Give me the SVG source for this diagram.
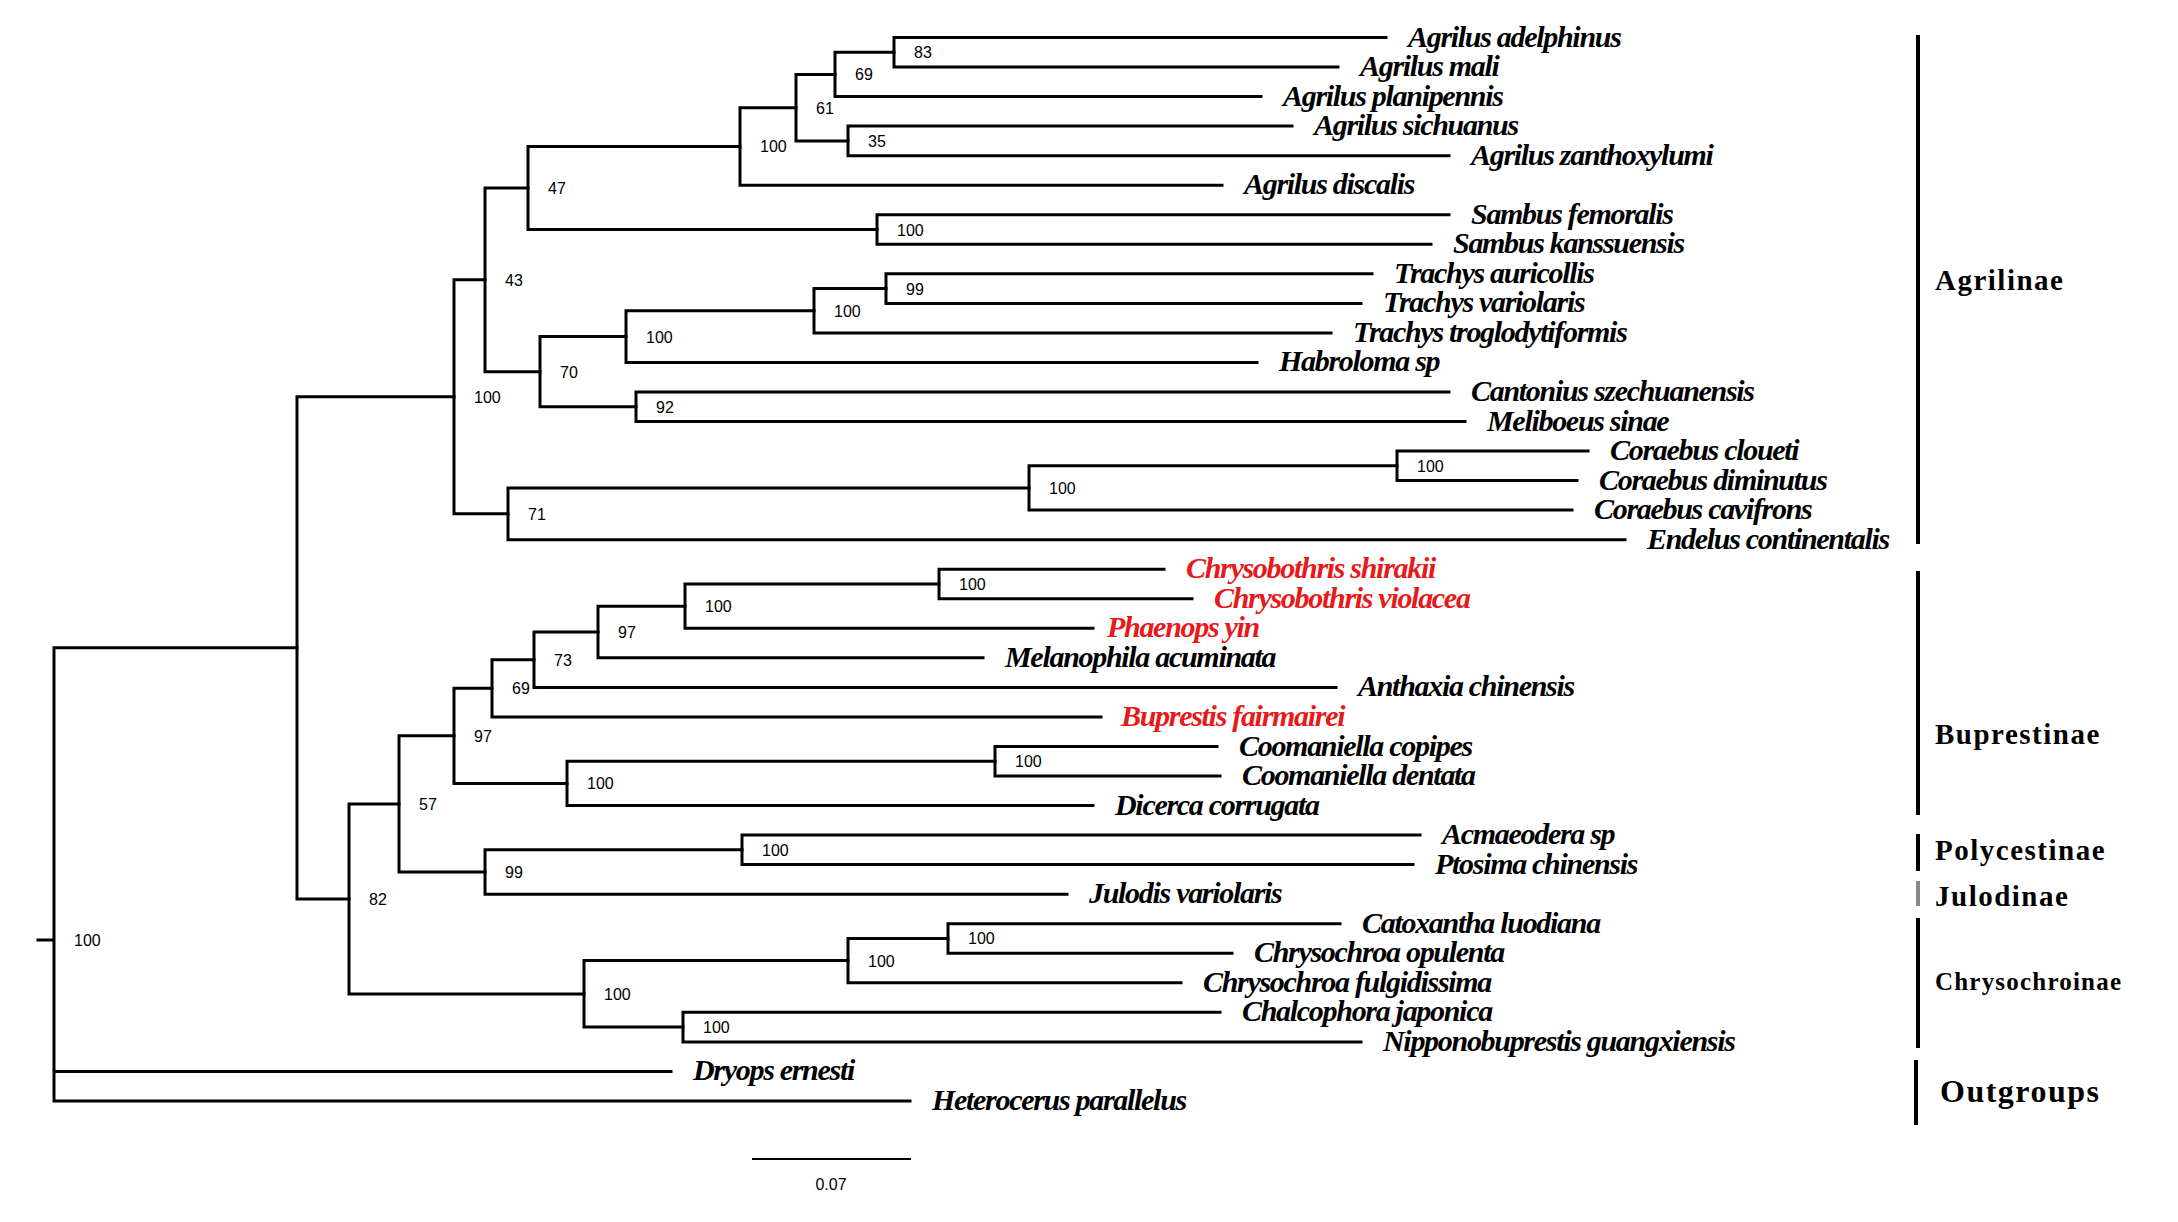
<svg xmlns="http://www.w3.org/2000/svg" width="2178" height="1222" viewBox="0 0 2178 1222">
<style>
.e{fill:none;stroke:#000;stroke-width:3;stroke-linecap:square}
.b{font-family:"Liberation Sans",Arial,sans-serif;font-size:16px;fill:#000}
.t{font-family:"Liberation Serif","Times New Roman",serif;font-style:italic;font-weight:bold;font-size:30px;letter-spacing:-1.3px;fill:#000}
.r{fill:#e8191b}
.c{font-family:"Liberation Serif","Times New Roman",serif;font-weight:bold;font-size:29px;letter-spacing:1.5px;fill:#000}
.bar{stroke:#000;stroke-width:4}
</style>
<rect width="2178" height="1222" fill="#fff"/>
<g id="connectors">
<path class="e" d="M38,940H54M54,647.8V1100.9M54,647.8H297M54,1071.4H671M54,1100.9H910"/>
<path class="e" d="M297,396.8V898.9H349M297,396.8H454"/>
<path class="e" d="M454,279.8V513.8H508M454,279.8H485"/>
<path class="e" d="M485,188V371.7H540M485,188H528"/>
<path class="e" d="M528,146.4V229.5H877M528,146.4H740"/>
<path class="e" d="M740,107.7V185.2H1222M740,107.7H796"/>
<path class="e" d="M796,74.4V140.9H848M796,74.4H835"/>
<path class="e" d="M835,52.3V96.6H1261M835,52.3H894"/>
<path class="e" d="M894,37.5V67H1338M894,37.5H1386"/>
<path class="e" d="M848,126.1V155.7H1449M848,126.1H1292"/>
<path class="e" d="M877,214.7V244.3H1431M877,214.7H1449"/>
<path class="e" d="M540,336.6V406.8H636M540,336.6H626"/>
<path class="e" d="M626,310.8V362.4H1257M626,310.8H814"/>
<path class="e" d="M814,288.6V332.9H1331M814,288.6H886"/>
<path class="e" d="M886,273.8V303.4H1361M886,273.8H1372"/>
<path class="e" d="M636,392V421.5H1465M636,392H1449"/>
<path class="e" d="M508,488V539.7H1625M508,488H1029"/>
<path class="e" d="M1029,465.8V510.1H1572M1029,465.8H1397"/>
<path class="e" d="M1397,451.1V480.6H1577M1397,451.1H1588"/>
<path class="e" d="M349,803.9V993.9H584M349,803.9H399"/>
<path class="e" d="M399,735.8V872H485M399,735.8H454"/>
<path class="e" d="M454,688.3V783.4H567M454,688.3H492"/>
<path class="e" d="M492,659.7V716.9H1101M492,659.7H534"/>
<path class="e" d="M534,632V687.4H1336M534,632H598"/>
<path class="e" d="M598,606.2V657.8H983M598,606.2H685"/>
<path class="e" d="M685,584V628.3H1093M685,584H939"/>
<path class="e" d="M939,569.2V598.8H1192M939,569.2H1164"/>
<path class="e" d="M567,761.2V805.5H1093M567,761.2H995"/>
<path class="e" d="M995,746.5V776H1220M995,746.5H1217"/>
<path class="e" d="M485,849.8V894.2H1067M485,849.8H742"/>
<path class="e" d="M742,835.1V864.6H1413M742,835.1H1420"/>
<path class="e" d="M584,960.6V1027.1H683M584,960.6H848"/>
<path class="e" d="M848,938.4V982.8H1181M848,938.4H948"/>
<path class="e" d="M948,923.7V953.2H1232M948,923.7H1340"/>
<path class="e" d="M683,1012.3V1041.9H1361M683,1012.3H1220"/>
</g>
<g id="support">
<text class="b" x="74" y="946">100</text>
<text class="b" x="474" y="403">100</text>
<text class="b" x="505" y="286">43</text>
<text class="b" x="548" y="194">47</text>
<text class="b" x="760" y="152">100</text>
<text class="b" x="816" y="114">61</text>
<text class="b" x="855" y="80">69</text>
<text class="b" x="914" y="58">83</text>
<text class="b" x="868" y="147">35</text>
<text class="b" x="897" y="236">100</text>
<text class="b" x="560" y="378">70</text>
<text class="b" x="646" y="343">100</text>
<text class="b" x="834" y="317">100</text>
<text class="b" x="906" y="295">99</text>
<text class="b" x="656" y="413">92</text>
<text class="b" x="528" y="520">71</text>
<text class="b" x="1049" y="494">100</text>
<text class="b" x="1417" y="472">100</text>
<text class="b" x="369" y="905">82</text>
<text class="b" x="419" y="810">57</text>
<text class="b" x="474" y="742">97</text>
<text class="b" x="512" y="694">69</text>
<text class="b" x="554" y="666">73</text>
<text class="b" x="618" y="638">97</text>
<text class="b" x="705" y="612">100</text>
<text class="b" x="959" y="590">100</text>
<text class="b" x="587" y="789">100</text>
<text class="b" x="1015" y="767">100</text>
<text class="b" x="505" y="878">99</text>
<text class="b" x="762" y="856">100</text>
<text class="b" x="604" y="1000">100</text>
<text class="b" x="868" y="967">100</text>
<text class="b" x="968" y="944">100</text>
<text class="b" x="703" y="1033">100</text>
</g>
<g id="leaves">
<g id="l0"><text class="t" x="1408" y="46.5">Agrilus adelphinus</text></g>
<g id="l1"><text class="t" x="1360" y="76">Agrilus mali</text></g>
<g id="l2"><text class="t" x="1283" y="105.6">Agrilus planipennis</text></g>
<g id="l3"><text class="t" x="1314" y="135.1">Agrilus sichuanus</text></g>
<g id="l4"><text class="t" x="1471" y="164.7">Agrilus zanthoxylumi</text></g>
<g id="l5"><text class="t" x="1244" y="194.2">Agrilus discalis</text></g>
<g id="l6"><text class="t" x="1471" y="223.7">Sambus femoralis</text></g>
<g id="l7"><text class="t" x="1453" y="253.3">Sambus kanssuensis</text></g>
<g id="l8"><text class="t" x="1394" y="282.8">Trachys auricollis</text></g>
<g id="l9"><text class="t" x="1383" y="312.4">Trachys variolaris</text></g>
<g id="l10"><text class="t" x="1353" y="341.9">Trachys troglodytiformis</text></g>
<g id="l11"><text class="t" x="1279" y="371.4">Habroloma sp</text></g>
<g id="l12"><text class="t" x="1471" y="401">Cantonius szechuanensis</text></g>
<g id="l13"><text class="t" x="1487" y="430.5">Meliboeus sinae</text></g>
<g id="l14"><text class="t" x="1610" y="460.1">Coraebus cloueti</text></g>
<g id="l15"><text class="t" x="1599" y="489.6">Coraebus diminutus</text></g>
<g id="l16"><text class="t" x="1594" y="519.1">Coraebus cavifrons</text></g>
<g id="l17"><text class="t" x="1647" y="548.7">Endelus continentalis</text></g>
<g id="l18"><text class="t r" x="1186" y="578.2">Chrysobothris shirakii</text></g>
<g id="l19"><text class="t r" x="1214" y="607.8">Chrysobothris violacea</text></g>
<g id="l20"><text class="t r" x="1107" y="637.3">Phaenops yin</text></g>
<g id="l21"><text class="t" x="1005" y="666.8">Melanophila acuminata</text></g>
<g id="l22"><text class="t" x="1358" y="696.4">Anthaxia chinensis</text></g>
<g id="l23"><text class="t r" x="1121" y="725.9">Buprestis fairmairei</text></g>
<g id="l24"><text class="t" x="1239" y="755.5">Coomaniella copipes</text></g>
<g id="l25"><text class="t" x="1242" y="785">Coomaniella dentata</text></g>
<g id="l26"><text class="t" x="1115" y="814.5">Dicerca corrugata</text></g>
<g id="l27"><text class="t" x="1442" y="844.1">Acmaeodera sp</text></g>
<g id="l28"><text class="t" x="1435" y="873.6">Ptosima chinensis</text></g>
<g id="l29"><text class="t" x="1089" y="903.2">Julodis variolaris</text></g>
<g id="l30"><text class="t" x="1362" y="932.7">Catoxantha luodiana</text></g>
<g id="l31"><text class="t" x="1254" y="962.2">Chrysochroa opulenta</text></g>
<g id="l32"><text class="t" x="1203" y="991.8">Chrysochroa fulgidissima</text></g>
<g id="l33"><text class="t" x="1242" y="1021.3">Chalcophora japonica</text></g>
<g id="l34"><text class="t" x="1383" y="1050.9">Nipponobuprestis guangxiensis</text></g>
<g id="l35"><text class="t" x="693" y="1080.4">Dryops ernesti</text></g>
<g id="l36"><text class="t" x="932" y="1109.9">Heterocerus parallelus</text></g>
</g>
<g id="clades">
<g id="c-agr"><line class="bar" x1="1918" y1="35" x2="1918" y2="544"/><text class="c" x="1935" y="290">Agrilinae</text></g>
<g id="c-bup"><line class="bar" x1="1918" y1="571" x2="1918" y2="815"/><text class="c" x="1935" y="744">Buprestinae</text></g>
<g id="c-pol"><line class="bar" x1="1918" y1="834" x2="1918" y2="871"/><text class="c" x="1935" y="860">Polycestinae</text></g>
<g id="c-jul"><line x1="1918" y1="881" x2="1918" y2="906" stroke="#888" stroke-width="4"/><text class="c" x="1935" y="906">Julodinae</text></g>
<g id="c-chr"><line class="bar" x1="1918" y1="918" x2="1918" y2="1048"/><text class="c" x="1935" y="990" style="font-size:25px;letter-spacing:1.2px">Chrysochroinae</text></g>
<g id="c-out"><line class="bar" x1="1916" y1="1060" x2="1916" y2="1125"/><text class="c" x="1940" y="1102" style="font-size:32px">Outgroups</text></g>
</g>
<g id="scale">
<line x1="752" y1="1159" x2="911" y2="1159" stroke="#000" stroke-width="2"/>
<text class="b" x="831" y="1190" text-anchor="middle">0.07</text>
</g>
</svg>
